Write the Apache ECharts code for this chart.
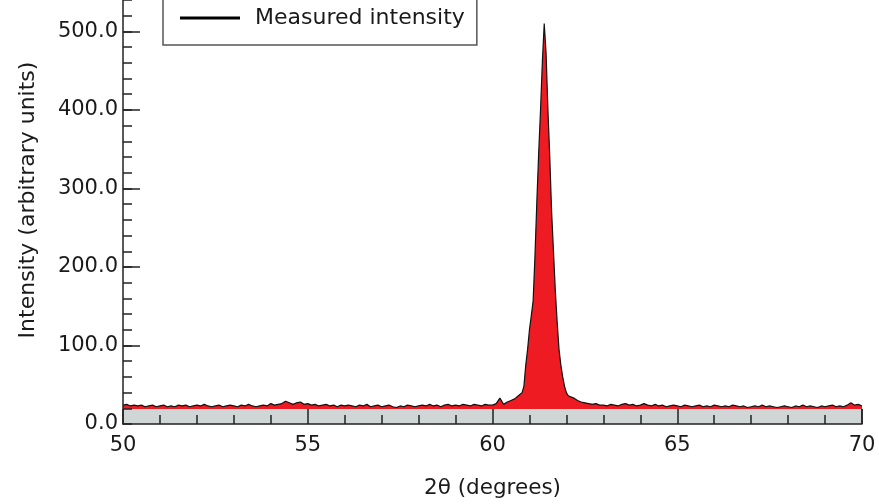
<!DOCTYPE html>
<html>
<head>
<meta charset="utf-8">
<script src="https://cdn.jsdelivr.net/npm/echarts@6/dist/echarts.min.js"></script>
<style>
html,body{margin:0;padding:0;background:#fff;}
#chart{width:879px;height:504px;}
</style>
</head>
<body>
<div id="chart"></div>
<script>
// 2-theta positions (degrees)
const twoTheta = [
  50.0,50.1,50.2,50.3,50.4,50.5,50.6,50.7,50.8,50.9,
  51.0,51.1,51.2,51.3,51.4,51.5,51.6,51.7,51.8,51.9,
  52.0,52.1,52.2,52.3,52.4,52.5,52.6,52.7,52.8,52.9,
  53.0,53.1,53.2,53.3,53.4,53.5,53.6,53.7,53.8,53.9,
  54.0,54.1,54.2,54.3,54.4,54.5,54.6,54.7,54.8,54.9,
  55.0,55.1,55.2,55.3,55.4,55.5,55.6,55.7,55.8,55.9,
  56.0,56.1,56.2,56.3,56.4,56.5,56.6,56.7,56.8,56.9,
  57.0,57.1,57.2,57.3,57.4,57.5,57.6,57.7,57.8,57.9,
  58.0,58.1,58.2,58.3,58.4,58.5,58.6,58.7,58.8,58.9,
  59.0,59.1,59.2,59.3,59.4,59.5,59.6,59.7,59.8,59.9,
  60.0,60.1,60.2,60.3,60.4,60.5,60.6,60.7,60.8,60.85,
  60.9,60.95,61.0,61.05,61.1,61.15,61.2,61.25,61.3,61.35,
  61.4,61.45,61.5,61.55,61.6,61.65,61.7,61.75,61.8,61.85,
  61.9,61.95,62.0,62.05,62.1,62.2,62.3,62.4,62.5,62.6,
  62.7,62.8,62.9,63.0,63.1,63.2,63.3,63.4,63.5,63.6,
  63.7,63.8,63.9,64.0,64.1,64.2,64.3,64.4,64.5,64.6,
  64.7,64.8,64.9,65.0,65.1,65.2,65.3,65.4,65.5,65.6,
  65.7,65.8,65.9,66.0,66.1,66.2,66.3,66.4,66.5,66.6,
  66.7,66.8,66.9,67.0,67.1,67.2,67.3,67.4,67.5,67.6,
  67.7,67.8,67.9,68.0,68.1,68.2,68.3,68.4,68.5,68.6,
  68.7,68.8,68.9,69.0,69.1,69.2,69.3,69.4,69.5,69.6,
  69.7,69.8,69.9,70.0
];
// measured intensity (arbitrary units)
const intensity = [
  24,25,23,24,23,24,22,23,24,22,
  23,24,22,23,22,24,23,24,22,23,
  24,23,25,23,22,23,24,22,23,24,
  23,22,24,23,25,23,22,23,24,23,
  26,24,25,26,29,27,25,27,28,25,
  26,24,25,23,24,25,23,24,22,24,
  23,24,23,22,24,23,25,22,23,24,
  22,23,24,22,21,23,22,24,23,22,
  23,24,23,25,23,24,22,24,25,23,
  24,23,25,24,23,25,24,23,25,24,
  24,26,33,25,28,30,32,36,40,48,
  75,95,120,138,157,215,283,345,400,462,
  510,472,400,340,270,220,170,130,95,75,
  60,48,40,36,34,33,30,28,27,26,
  25,26,24,24,23,25,24,23,25,26,
  24,25,23,24,26,24,23,25,23,24,
  22,23,24,23,22,24,23,22,23,24,
  22,23,22,24,23,22,23,22,24,23,
  22,23,21,22,23,22,24,22,23,22,
  21,22,23,22,21,23,22,24,22,23,
  22,21,23,22,23,24,22,23,22,24,
  27,24,25,23
];
const xTicks = [50, 55, 60, 65, 70];
const yTicks = [0, 100, 200, 300, 400, 500];
const backgroundLevel = 19;
const seriesName = 'Measured intensity';

const data = twoTheta.map((x, i) => [x, intensity[i]]);
const FONT = 'DejaVu Sans';
const TXT = '#1a1a1a';

const chart = echarts.init(document.getElementById('chart'), null, {renderer: 'canvas'});
chart.setOption({
  animation: false,
  backgroundColor: '#ffffff',
  grid: {left: 123, right: 17, top: -3.4, height: 427.4, containLabel: false},
  legend: {
    left: 163, top: -10,
    padding: [17, 12, 16, 17],
    borderColor: '#555', borderWidth: 1.5,
    itemWidth: 60, itemHeight: 3,
    data: [{name: seriesName, icon: 'rect', itemStyle: {color: '#000'}}],
    textStyle: {fontFamily: FONT, fontSize: 22, color: TXT, padding: [0, 0, 0, 10]}
  },
  xAxis: {
    type: 'value', min: xTicks[0], max: xTicks[xTicks.length - 1], interval: 5,
    z: 5,
    name: '2θ (degrees)', nameLocation: 'middle', nameGap: 53,
    nameTextStyle: {fontFamily: FONT, fontSize: 21.5, color: TXT},
    axisLine: {show: true, lineStyle: {color: '#222', width: 1.5}},
    axisTick: {show: true, inside: true, length: 15, lineStyle: {color: '#222', width: 1.5}},
    minorTick: {show: true, splitNumber: 5, length: 9, lineStyle: {color: '#222', width: 1.5}},
    axisLabel: {fontFamily: FONT, fontSize: 21, color: TXT, margin: 11},
    splitLine: {show: false}
  },
  yAxis: {
    type: 'value', min: 0, max: 540, interval: 20,
    z: 5,
    name: 'Intensity (arbitrary units)', nameLocation: 'middle', nameGap: 84,
    nameTextStyle: {fontFamily: FONT, fontSize: 22, color: TXT, padding: [0, 0, 0, 24]},
    axisLine: {show: true, lineStyle: {color: '#222', width: 1.5}},
    axisTick: {show: true, inside: true, length: 9, lineStyle: {color: '#222', width: 1.5}},
    axisLabel: {
      fontFamily: FONT, fontSize: 21, color: TXT, margin: 5,
      formatter: v => yTicks.indexOf(v) >= 0 ? v.toFixed(1) : ''
    },
    splitLine: {show: false}
  },
  series: [{
    name: seriesName,
    type: 'line',
    data: data,
    showSymbol: false,
    symbol: 'none',
    lineStyle: {color: '#111', width: 1.2},
    itemStyle: {color: '#111'},
    areaStyle: {color: '#ee1c22', opacity: 1, origin: backgroundLevel},
    z: 2,
    markArea: {
      silent: true,
      itemStyle: {color: '#cfd6d5'},
      data: [[{coord: [xTicks[0], 0]}, {coord: [xTicks[xTicks.length - 1], backgroundLevel]}]]
    },
    markLine: {
      silent: true, symbol: 'none',
      label: {show: false},
      lineStyle: {color: '#222', width: 1.5, type: 'solid'},
      data: [
        [{coord: [xTicks[xTicks.length - 1], 0]}, {coord: [xTicks[xTicks.length - 1], backgroundLevel]}]
      ].concat(yTicks.slice(1).map(v => [{coord: [xTicks[0], v]}, {coord: [xTicks[0] + 0.46, v]}]))
    }
  }]
});
</script>
</body>
</html>
